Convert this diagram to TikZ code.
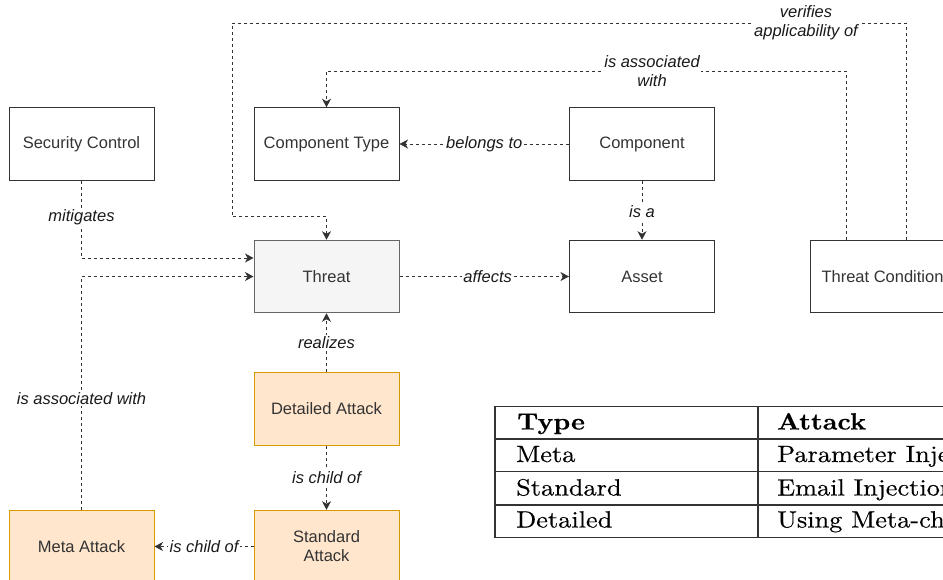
\documentclass[tikz,border=0pt]{standalone}
\usepackage{fontspec}
\setsansfont{Liberation Sans}
\newfontfamily\tablefont{lmroman10-regular}[Extension=.otf,
  BoldFont=lmroman10-bold, FakeStretch=1.12, FakeBold=0.35]
\usetikzlibrary{arrows.meta,calc}
\definecolor{ink}{HTML}{333333}
\definecolor{labelink}{HTML}{1A1A1A}
\definecolor{threatline}{HTML}{666666}
\definecolor{threatfill}{HTML}{F5F5F5}
\definecolor{attackline}{HTML}{D79B00}
\definecolor{attackfill}{HTML}{FFE6CC}
\begin{document}
\begin{tikzpicture}[x=1pt,y=-1pt,
  box/.style={draw=ink, line width=1pt, minimum width=145pt, minimum height=72.5pt,
    inner sep=0pt, align=center, text=ink,
    font=\sffamily\fontsize{16.5}{19}\selectfont},
  greybox/.style={box, draw=threatline, fill=threatfill},
  attackbox/.style={box, draw=attackline, fill=attackfill},
  rel/.style={draw=ink, line width=1pt, dash pattern=on 3pt off 3pt,
    -{Stealth[length=8.5pt,width=9pt,inset=2.5pt]}},
  lbl/.style={fill=white, inner sep=1.5pt, align=center, text=labelink,
    font=\sffamily\itshape\fontsize{16.5}{19}\selectfont},
  cell/.style={anchor=base west, inner sep=0pt, text=black,
    font=\tablefont\fontsize{23.5}{26}\selectfont},
  rule/.style={draw=ink, line width=1.2pt}
]
\useasboundingbox (0,0) rectangle (943,579);
\clip (0,0) rectangle (943,579);

% entities
\node[box] (sc) at (81.5,144) {Security Control};
\node[box] (ct) at (326.5,144) {Component Type};
\node[box] (comp) at (642,144) {Component};
\node[greybox] (thr) at (326.5,276.5) {Threat};
\node[box] (asset) at (642,276.5) {Asset};
\node[box] (tc) at (882.5,276.5) {Threat Condition};
\node[attackbox] (da) at (326.5,409) {Detailed Attack};
\node[attackbox] (sa) at (326.5,546.5) {Standard\\Attack};
\node[attackbox] (ma) at (81.5,546.5) {Meta Attack};

% routing points of the long connectors
\coordinate (a1) at (846.5,71);
\coordinate (v1) at (906.5,23);
\coordinate (v2) at (232,23);
\coordinate (v3) at (232,216.5);

% relations
\draw[rel] (sc.south) |- node[lbl,pos=0.237]{mitigates} ($(thr.west)+(0,-18.5)$);
\draw[rel] (ma.north) |- node[lbl,pos=0.238]{is associated with} (thr.west);
\draw[rel] (comp.west) -- node[lbl]{belongs to} (ct.east);
\draw[rel] (comp.south) -- node[lbl,pos=0.53]{is a} (asset.north);
\draw[rel] (thr.east) -- node[lbl,pos=0.52]{affects} (asset.west);
\draw[rel] (da.north) -- node[lbl]{realizes} (thr.south);
\draw[rel] (da.south) -- node[lbl]{is child of} (sa.north);
\draw[rel] (sa.west) -- node[lbl]{is child of} (ma.east);
\draw[rel] (tc.north -| a1) |- node[lbl,pos=0.687]{is associated\\with} (ct.north |- a1) -- (ct.north);
\draw[rel] (tc.north -| v1) -- (v1) -- node[lbl,pos=0.149]{verifies\\applicability of} (v2) -- (v3) -| (thr.north);

% attack type table
\coordinate (tl) at (495,406.5);
\coordinate (br) at (960,537.5);
\draw[rule] (tl) rectangle (br);
\draw[rule] (495,439) -- (960,439);
\draw[rule] (495,471.5) -- (960,471.5);
\draw[rule] (495,505) -- (960,505);
\draw[rule] (758,406.5) -- (758,537.5);
\node[cell] (h1) at (517,429.5) {\bfseries Type};
\node[cell] (h2) at (777,429.5) {\bfseries Attack};
\node[cell] (r1a) at (516,462) {Meta};
\node[cell] (r1b) at (777,462) {Parameter Injection};
\node[cell] (r2a) at (516,495.5) {Standard};
\node[cell] (r2b) at (777,495.5) {Email Injection};
\node[cell] (r3a) at (516,527.5) {Detailed};
\node[cell] (r3b) at (777,527.5) {Using Meta-characters};
\end{tikzpicture}
\end{document}
